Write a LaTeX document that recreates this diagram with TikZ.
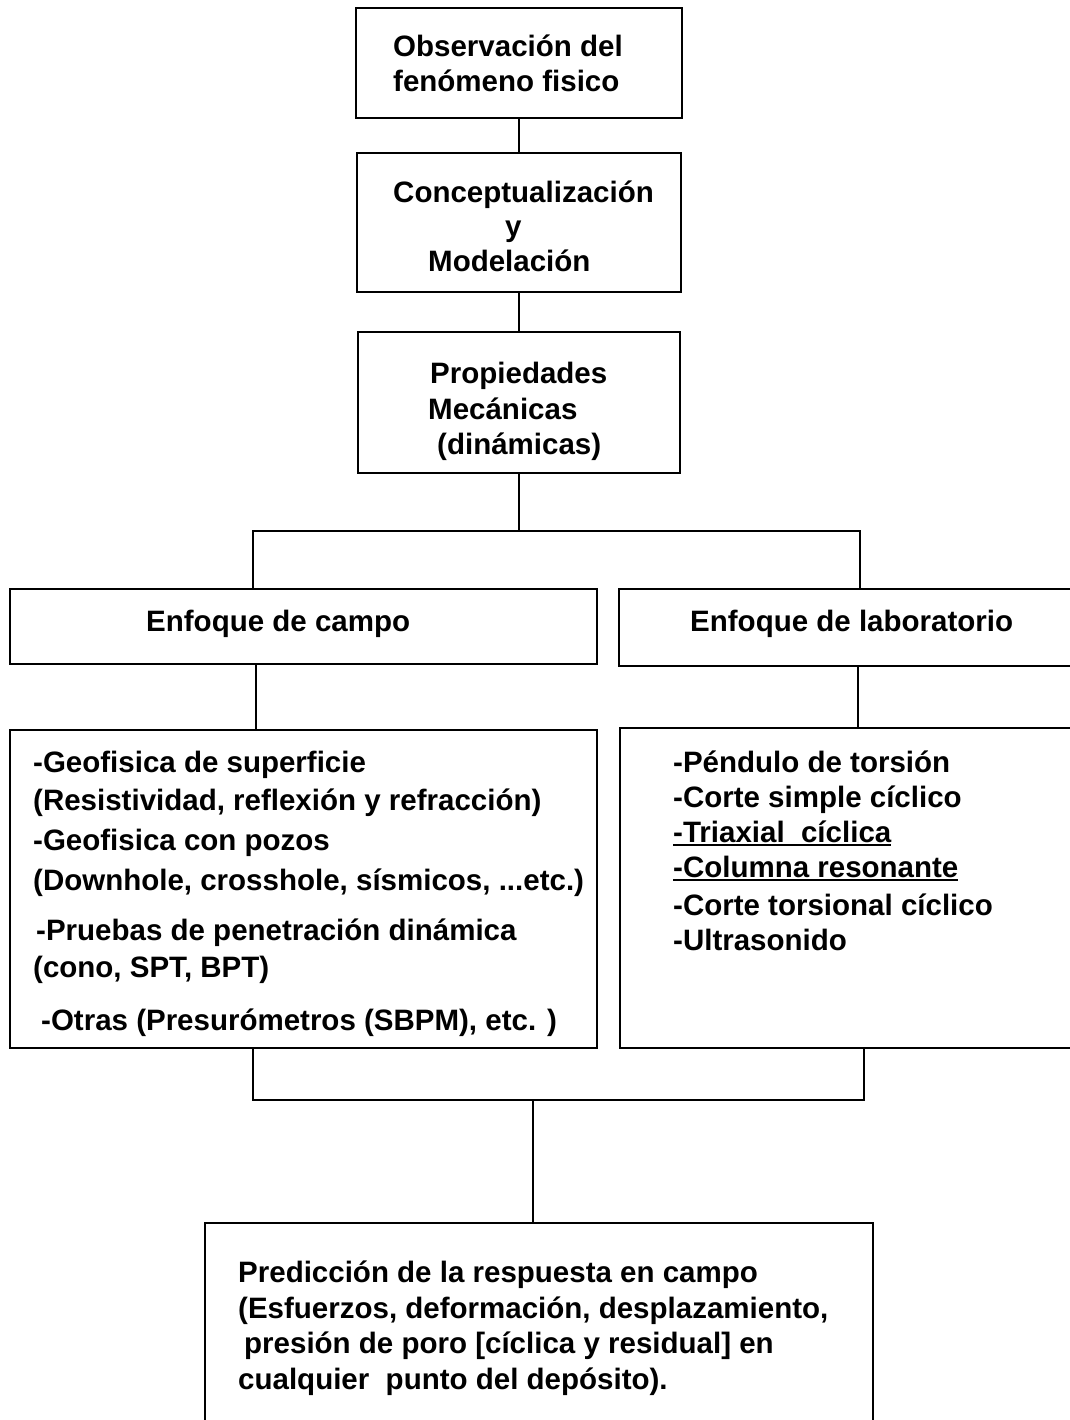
\documentclass[tikz,border=0pt]{standalone}
\usepackage{fontspec}
\setmainfont{Liberation Sans}
% underline drawn as a thick rule under the text
\newcommand\ulbar[1]{\setbox0\hbox{#1}\rlap{\rule[-4pt]{\wd0}{2pt}}\box0}
\begin{document}
\begin{tikzpicture}[x=1pt,y=-1pt,
  box/.style={draw, line width=2.6pt, inner sep=0pt, outer sep=0pt, anchor=north west},
  txt/.style={anchor=base west, inner sep=0pt, font=\fontsize{29.5}{34}\selectfont\bfseries},
  link/.style={line width=2.6pt}]
\useasboundingbox[fill=white] (0,0) rectangle (1069,1420);

% boxes
\node[box, minimum width=326pt, minimum height=110pt] (obs) at (356,8) {};
\node[box, minimum width=324pt, minimum height=139pt] (con) at (357,153) {};
\node[box, minimum width=322pt, minimum height=141pt] (pro) at (358,332) {};
\node[box, minimum width=587pt, minimum height=75pt] (campo) at (10,589) {};
\node[box, minimum width=470pt, minimum height=77pt] (lab) at (619,589) {};
\node[box, minimum width=587pt, minimum height=318pt] (campoD) at (10,730) {};
\node[box, minimum width=470pt, minimum height=320pt] (labD) at (620,728) {};
\node[box, minimum width=668pt, minimum height=215pt] (pred) at (205,1223) {};

% texts
\node[txt] (obs1) at (393,57) {Observación del};
\node[txt] (obs2) at (393,92) {fenómeno fisico};
\node[txt] (con1) at (393,203) {Conceptualización};
\node[txt] (con2) at (505,237) {y};
\node[txt] (con3) at (428,272) {Modelación};
\node[txt] (pro1) at (430,383) {Propiedades};
\node[txt] (pro2) at (428,419) {Mecánicas};
\node[txt] (pro3) at (437,454) {(dinámicas)};
\node[txt] (campoT) at (146,631) {Enfoque de campo};
\node[txt] (labT) at (690,631) {Enfoque de laboratorio};

\node[txt] (cd1) at (33,772) {-Geofisica de superficie};
\node[txt] (cd2) at (33,810) {(Resistividad, reflexión y refracción)};
\node[txt] (cd3) at (33,850) {-Geofisica con pozos};
\node[txt] (cd4) at (33,890) {(Downhole, crosshole, sísmicos, ...etc.)};
\node[txt] (cd5) at (36,940) {-Pruebas de penetración dinámica};
\node[txt] (cd6) at (33,977) {(cono, SPT, BPT)};
\node[txt] (cd7) at (41,1030) {-Otras (Presurómetros (SBPM), etc. )};

\node[txt] (ld1) at (673,772) {-Péndulo de torsión};
\node[txt] (ld2) at (673,807) {-Corte simple cíclico};
\node[txt] (ld3) at (673,842) {\ulbar{-Triaxial\ \ cíclica}};
\node[txt] (ld4) at (673,877) {\ulbar{-Columna resonante}};
\node[txt] (ld5) at (673,915) {-Corte torsional cíclico};
\node[txt] (ld6) at (673,950) {-Ultrasonido};

\node[txt] (pr1) at (238,1282) {Predicción de la respuesta en campo};
\node[txt] (pr2) at (238,1318) {(Esfuerzos, deformación, desplazamiento,};
\node[txt] (pr3) at (244,1353) {presión de poro [cíclica y residual] en};
\node[txt] (pr4) at (238,1389) {cualquier\ \ punto del depósito).};

% connectors
\draw[link] (obs.south) -- (con.north);
\draw[link] (con.south) -- (pro.north);

\coordinate (bl) at (253,531);
\coordinate (br) at (860,531);
\draw[link] (pro.south) -- (pro.south |- bl);
\draw[link] (campo.north -| bl) -- (bl) -- (br) -- (lab.north -| br);

\coordinate (cl) at (256,0);
\coordinate (cr) at (858,0);
\draw[link] (campo.south -| cl) -- (campoD.north -| cl);
\draw[link] (lab.south -| cr) -- (labD.north -| cr);

\coordinate (dl) at (253,1100);
\coordinate (dr) at (864,1100);
\coordinate (dm) at (533,1100);
\draw[link] (campoD.south -| dl) -- (dl) -- (dr) -- (labD.south -| dr);
\draw[link] (dm) -- (pred.north -| dm);
\end{tikzpicture}
\end{document}
